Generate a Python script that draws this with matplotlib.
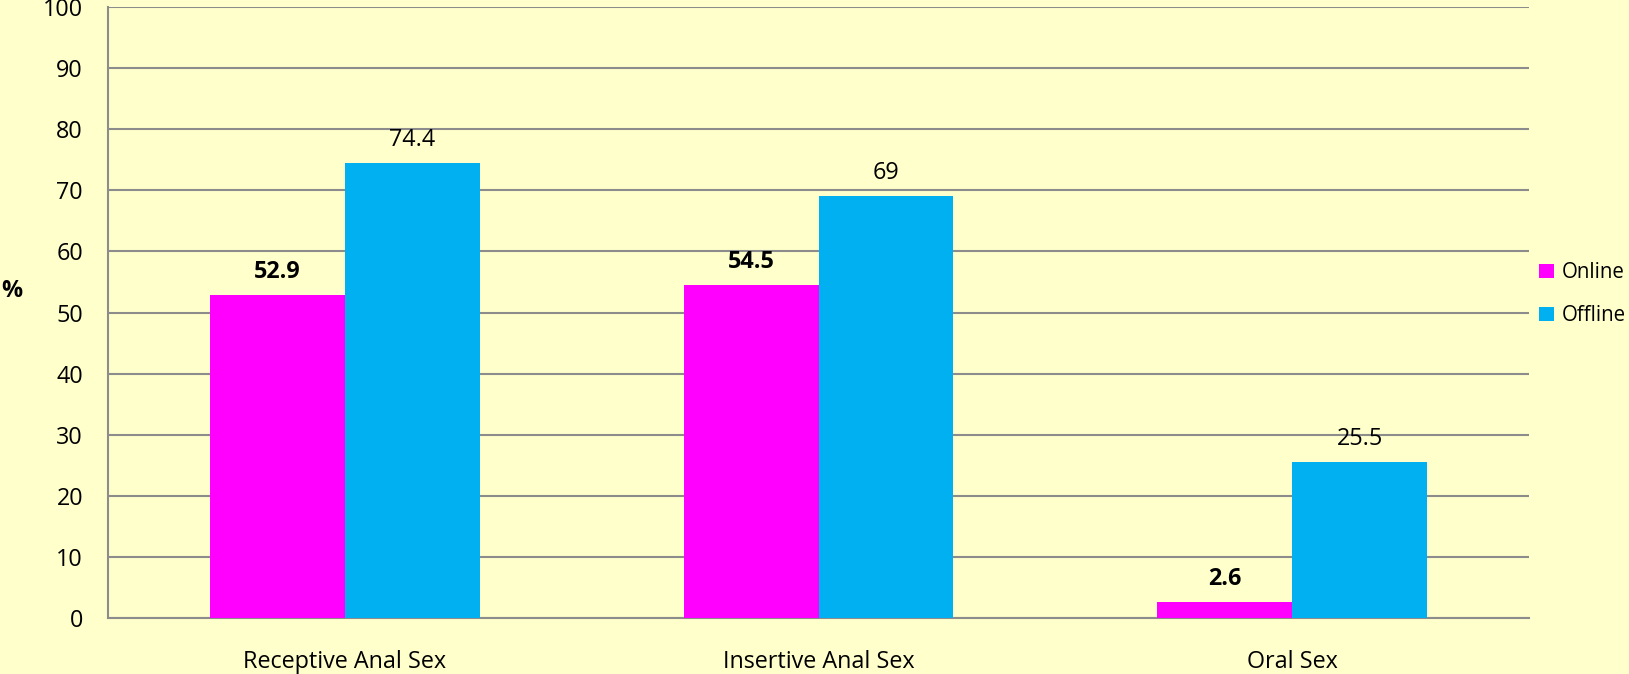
import matplotlib.pyplot as plt
import numpy as np

categories = ['Receptive Anal Sex', 'Insertive Anal Sex', 'Oral Sex']
online = [52.9, 54.5, 2.6]
offline = [74.4, 69, 25.5]
series_names = ['Online', 'Offline']

BG = '#FFFFCC'
COLORS = ('#FF00FF', '#00B0F0')
GRID = '#8C8C8C'
FS = 16.8

plt.rcParams['font.family'] = ['Open Sans', 'DejaVu Sans']

fig = plt.figure(figsize=(16.29, 6.74), dpi=100, facecolor=BG)
ax = fig.add_axes([108/1629, 1 - 618/674, (1529-108)/1629, (618-7)/674])
ax.set_facecolor(BG)

x = np.arange(len(categories))
w = 0.285
b1 = ax.bar(x - w/2, online, w, color=COLORS[0], label=series_names[0], zorder=3)
b2 = ax.bar(x + w/2, offline, w, color=COLORS[1], label=series_names[1], zorder=3)

# value labels: online in bold, offline regular
for rect, v in zip(b1, online):
    ax.annotate(f'{v:g}', (rect.get_x() + rect.get_width()/2, v), xytext=(0, 8),
                textcoords='offset points', ha='center', va='bottom',
                fontsize=FS, fontweight='bold', color='black')
for rect, v in zip(b2, offline):
    ax.annotate(f'{v:g}', (rect.get_x() + rect.get_width()/2, v), xytext=(0, 8),
                textcoords='offset points', ha='center', va='bottom',
                fontsize=FS, color='black')

ax.set_xlim(-0.5, len(categories) - 0.5)
ax.set_ylim(0, 100)
ax.set_yticks(range(0, 101, 10))
ax.set_xticks(x)
ax.set_xticklabels(categories, fontsize=FS)
ax.tick_params(axis='y', labelsize=FS, length=0, pad=18)
ax.tick_params(axis='x', length=0, pad=23)
ax.yaxis.grid(True, color=GRID, linewidth=1.5, zorder=0)
ax.set_axisbelow(True)
for s in ('top', 'right'):
    ax.spines[s].set_visible(False)
for s in ('left', 'bottom'):
    ax.spines[s].set_color(GRID)
    ax.spines[s].set_linewidth(1.5)

ax.set_ylabel('%', rotation=0, fontsize=FS, fontweight='bold', labelpad=0)
ax.yaxis.set_label_coords(-96/1421, 0.516)

leg = ax.legend(loc='center left', bbox_to_anchor=(1.0, 0.53), frameon=False,
                fontsize=14.8, handlelength=0.7, handleheight=0.7, handletextpad=0.4,
                labelspacing=1.05, borderaxespad=0.1)

fig.savefig('out.png', dpi=100, facecolor=BG)
